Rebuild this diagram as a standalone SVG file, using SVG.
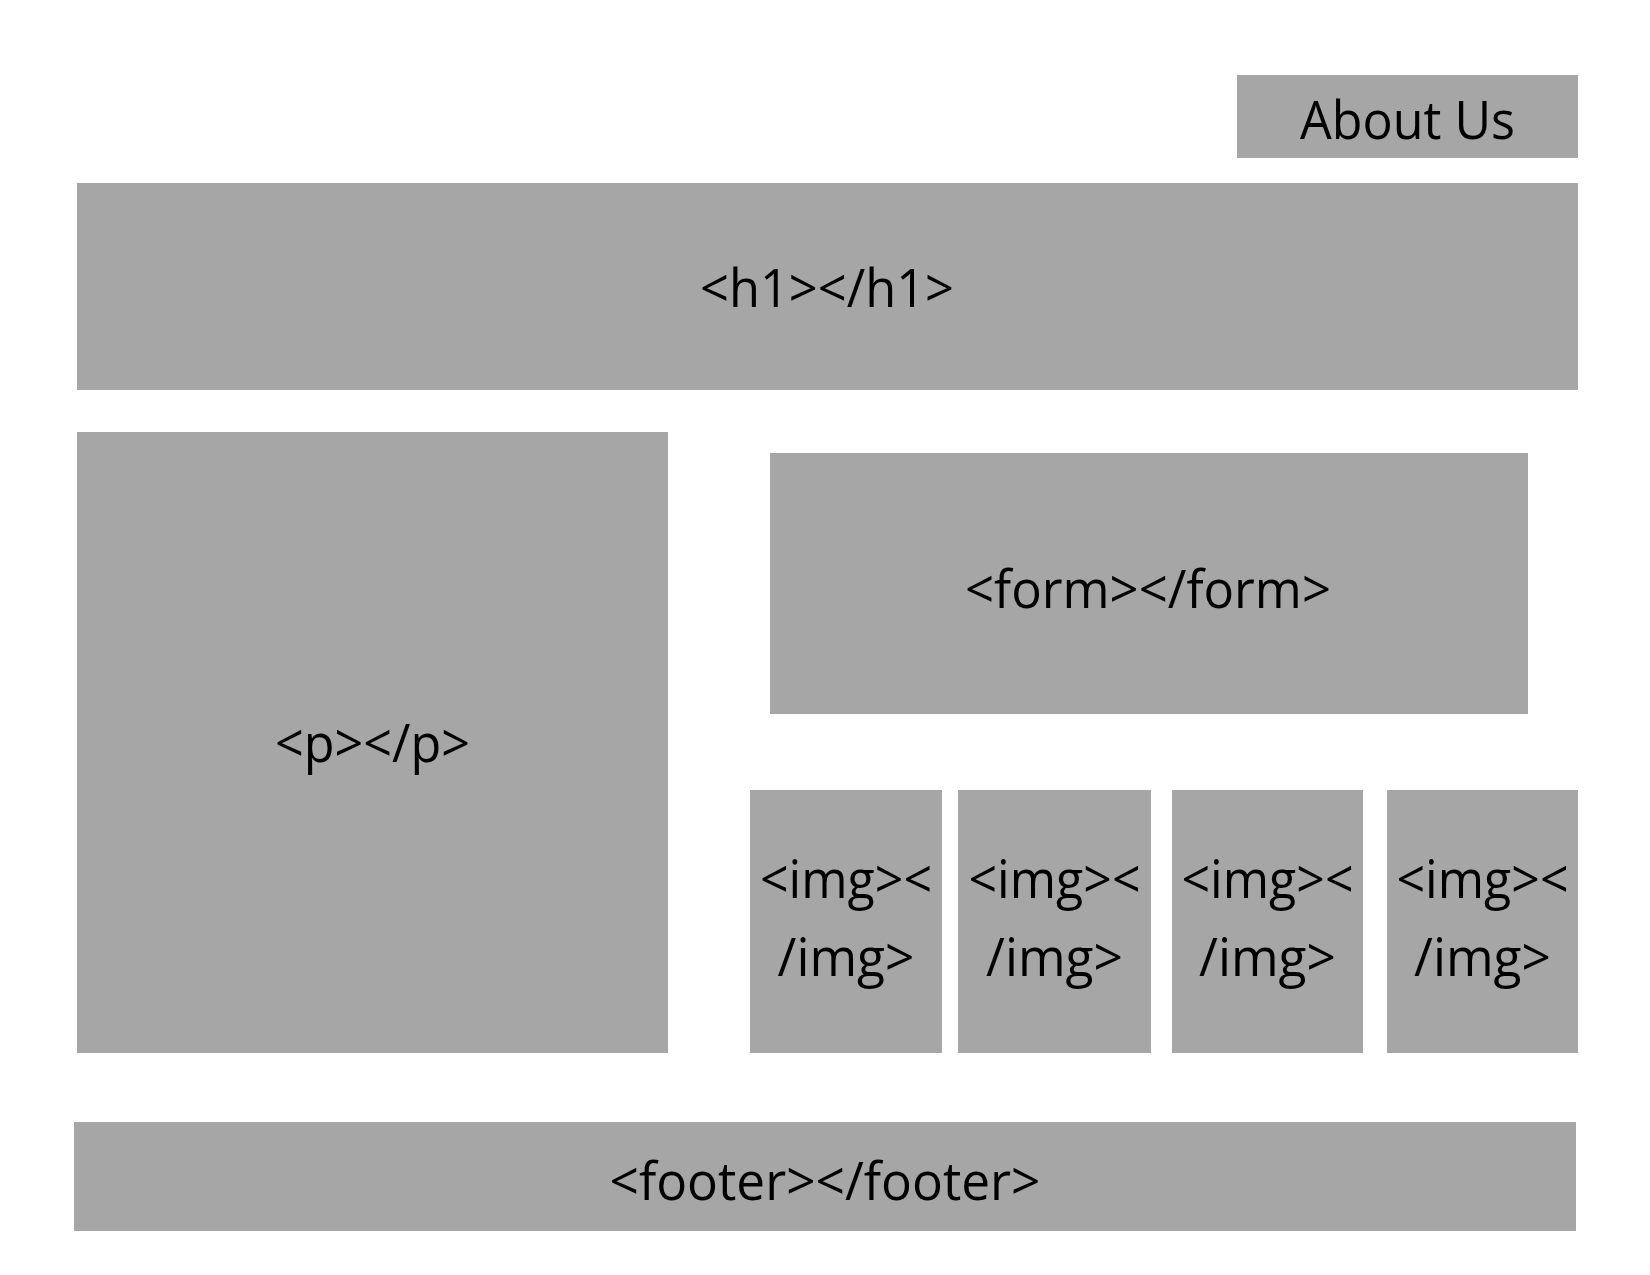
<svg xmlns="http://www.w3.org/2000/svg" width="1650" height="1275" viewBox="0 0 1650 1275">
<style>
.box{fill:#A6A6A6;}
.t{font-family:"Open Sans","Noto Sans","Liberation Sans",sans-serif;font-size:53px;fill:#000;text-anchor:middle;}
</style>
<rect x="0" y="0" width="1650" height="1275" fill="#FFFFFF"/>
<g id="about">
<rect class="box" x="1237" y="75" width="341" height="83"/>
<text class="t" x="1407.5" y="139" textLength="215" lengthAdjust="spacingAndGlyphs">About Us</text>
</g>
<g id="h1">
<rect class="box" x="77" y="183" width="1501" height="207"/>
<text class="t" x="827" y="307" textLength="254" lengthAdjust="spacingAndGlyphs">&lt;h1&gt;&lt;/h1&gt;</text>
</g>
<g id="p">
<rect class="box" x="77" y="432" width="591" height="621"/>
<text class="t" x="372.5" y="762" textLength="195" lengthAdjust="spacingAndGlyphs">&lt;p&gt;&lt;/p&gt;</text>
</g>
<g id="form">
<rect class="box" x="770" y="453" width="758" height="261"/>
<text class="t" x="1148" y="608" textLength="366" lengthAdjust="spacingAndGlyphs">&lt;form&gt;&lt;/form&gt;</text>
</g>
<g id="img1">
<rect class="box" x="750" y="790" width="192" height="263"/>
<text class="t" x="846" y="898" textLength="172" lengthAdjust="spacingAndGlyphs">&lt;img&gt;&lt;</text>
<text class="t" x="846" y="976" textLength="137" lengthAdjust="spacingAndGlyphs">/img&gt;</text>
</g>
<g id="img2">
<rect class="box" x="958" y="790" width="193" height="263"/>
<text class="t" x="1054.5" y="898" textLength="172" lengthAdjust="spacingAndGlyphs">&lt;img&gt;&lt;</text>
<text class="t" x="1054.5" y="976" textLength="137" lengthAdjust="spacingAndGlyphs">/img&gt;</text>
</g>
<g id="img3">
<rect class="box" x="1172" y="790" width="191" height="263"/>
<text class="t" x="1267.5" y="898" textLength="172" lengthAdjust="spacingAndGlyphs">&lt;img&gt;&lt;</text>
<text class="t" x="1267.5" y="976" textLength="137" lengthAdjust="spacingAndGlyphs">/img&gt;</text>
</g>
<g id="img4">
<rect class="box" x="1387" y="790" width="191" height="263"/>
<text class="t" x="1482.5" y="898" textLength="172" lengthAdjust="spacingAndGlyphs">&lt;img&gt;&lt;</text>
<text class="t" x="1482.5" y="976" textLength="137" lengthAdjust="spacingAndGlyphs">/img&gt;</text>
</g>
<g id="footer">
<rect class="box" x="74" y="1122" width="1502" height="109"/>
<text class="t" x="825" y="1200" textLength="431" lengthAdjust="spacingAndGlyphs">&lt;footer&gt;&lt;/footer&gt;</text>
</g>
<g id="connectors"></g>
</svg>
